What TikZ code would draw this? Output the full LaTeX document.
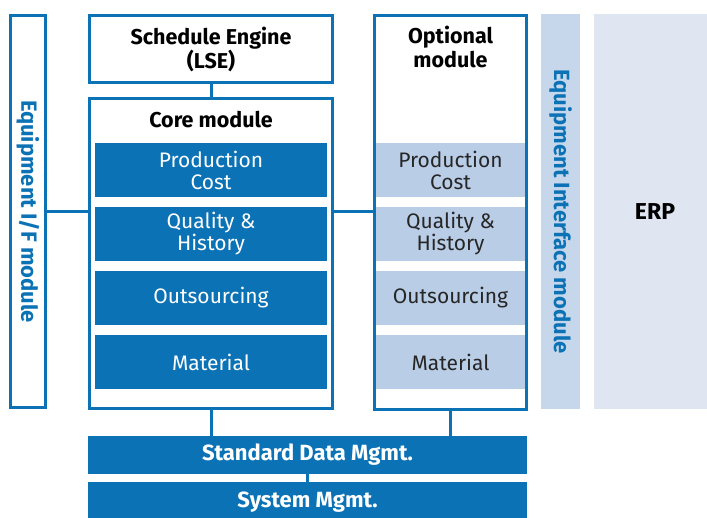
\documentclass[tikz,border=0pt]{standalone}
\usepackage{fontspec}
\setmainfont{Fira Sans}
\usetikzlibrary{positioning}
\definecolor{mesblue}{HTML}{0B72B5}
\definecolor{optfill}{HTML}{B9CDE6}
\definecolor{eimfill}{HTML}{C6D6EB}
\definecolor{erpfill}{HTML}{DFE6F2}
\tikzset{frame/.style={draw=mesblue, line width=3pt, fill=white, inner sep=0pt},
  coreitem/.style={fill=mesblue, text=white, inner sep=0pt, minimum width=232pt, minimum height=54pt, align=center, font=\fontsize{21}{22}\selectfont},
  optitem/.style={fill=optfill, text=black!85, inner sep=0pt, minimum width=149pt, minimum height=54pt, align=center, font=\fontsize{21}{22}\selectfont},
  bar/.style={fill=mesblue, text=white, inner sep=0pt, minimum width=439pt, minimum height=38pt, font=\bfseries\fontsize{22}{22}\selectfont},
  title/.style={align=center, text=black, font=\bfseries\fontsize{21.5}{24}\selectfont},
  sidetext/.style={rotate=-90, text=mesblue, font=\bfseries\fontsize{22}{22}\selectfont},
  link/.style={draw=mesblue, line width=3pt}}

\begin{document}
\begin{tikzpicture}[x=1pt,y=-1pt]
     \useasboundingbox (0,0) rectangle (707,517);
     % side modules
     \node[frame, minimum width=35pt, minimum height=392pt] (eqif) at (28,211.5) {};
     \node[sidetext] (eqiftext) at (eqif) {Equipment I/F module};
     \node[fill=eimfill, inner sep=0pt, minimum width=39pt, minimum height=395pt] (eim) at (560.5,211.5) {};
     \node[sidetext] (eimtext) at (eim) {Equipment Interface module};
     \node[fill=erpfill, inner sep=0pt, minimum width=113pt, minimum height=395pt] (erp) at (650.5,211.5) {};
     \node[title, font=\bfseries\fontsize{23}{24}\selectfont] (erptext) at (655,211.5) {ERP};
     % schedule engine
     \node[frame, minimum width=243pt, minimum height=67pt] (lse) at (211,49) {};
     \node[title] (lsetext) at (lse) {Schedule Engine\\(LSE)};
     % core module
     \node[frame, minimum width=243pt, minimum height=310pt] (core) at (211,253.5) {};
     \node[title, below=11pt of core.north] (coretitle) {Core module};
     \node[coreitem] (cprod) at (211,170) {Production\\Cost};
     \node[coreitem] (cqual) at (211,234) {Quality \&\\History};
     \node[coreitem] (cout) at (211,298) {Outsourcing};
     \node[coreitem] (cmat) at (211,362) {Material};
     % optional module
     \node[frame, minimum width=152pt, minimum height=394pt] (opt) at (450.5,212.5) {};
     \node[title] (opttitle) at (450.5,47) {Optional\\module};
     \node[optitem] (oprod) at (450.5,170) {Production\\Cost};
     \node[optitem] (oqual) at (450.5,234) {Quality \&\\History};
     \node[optitem] (oout) at (450.5,298) {Outsourcing};
     \node[optitem] (omat) at (450.5,362) {Material};
     % bottom layers
     \node[bar] (std) at (307.5,455) {Standard Data Mgmt.};
     \node[bar, minimum height=40pt] (sys) at (307.5,502) {System Mgmt.};
     % links
     \draw[link] (eqif.east) -- (eqif.east -| core.west);
     \draw[link] (eqif.east -| core.east) -- (eqif.east -| opt.west);
     \draw[link] (core.north |- lse.south) -- (core.north);
     \draw[link] (core.south) -- (core.south |- std.north);
     \draw[link] (opt.south) -- (opt.south |- std.north);
     \draw[link] (std.south) -- (sys.north);
    \end{tikzpicture}
\end{document}
